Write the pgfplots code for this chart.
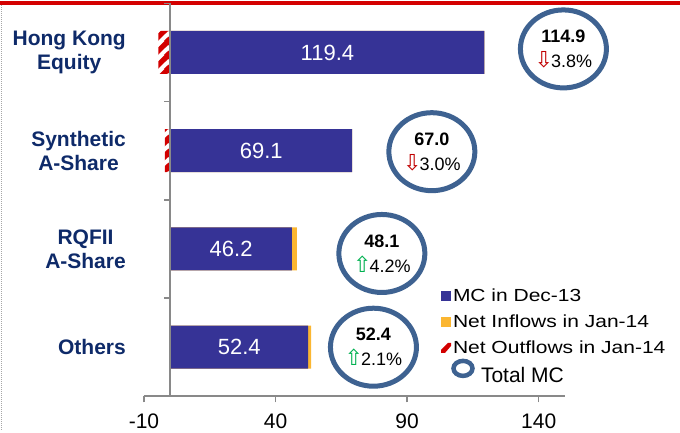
\documentclass[border=0pt]{standalone}
\usepackage{fontspec}
\setmainfont{Liberation Sans}
\newfontfamily\dejavu{DejaVu Sans}
\newfontfamily\legfont[FakeStretch=1.2]{Liberation Sans}
\usepackage{pgfplots}
\pgfplotsset{compat=1.18}
\usepackage{pgfplotstable}
\usetikzlibrary{patterns,shapes.geometric}

\definecolor{barblue}{RGB}{54,51,150}
\definecolor{inorange}{RGB}{251,182,49}
\definecolor{hred}{RGB}{210,0,0}
\definecolor{circblue}{RGB}{62,98,145}
\definecolor{navy}{RGB}{14,42,105}
\definecolor{axgray}{RGB}{137,137,137}
\definecolor{arrred}{RGB}{192,0,0}
\definecolor{arrgreen}{RGB}{0,176,80}
\definecolor{topred}{RGB}{212,0,0}

% thick red stripes for the outflows
\pgfdeclarepatternformonly{thickhatch}{\pgfqpoint{0pt}{0pt}}{\pgfqpoint{14pt}{14pt}}{\pgfqpoint{14pt}{14pt}}{%
  \pgfsetlinewidth{5.5pt}
  \pgfpathmoveto{\pgfqpoint{-2pt}{-2pt}}\pgfpathlineto{\pgfqpoint{16pt}{16pt}}
  \pgfpathmoveto{\pgfqpoint{-2pt}{12pt}}\pgfpathlineto{\pgfqpoint{2pt}{16pt}}
  \pgfpathmoveto{\pgfqpoint{12pt}{-2pt}}\pgfpathlineto{\pgfqpoint{16pt}{2pt}}
  \pgfusepath{stroke}}

\newcommand\dn{{\color{arrred}\dejavu\fontsize{22}{16}\selectfont ⇩}\kern-2pt}
\newcommand\up{{\color{arrgreen}\dejavu\fontsize{22}{16}\selectfont ⇧}\kern-2pt}
\newcommand\circtxt[3]{\textbf{#1}\\#2#3\%}

\pgfplotstableread{
y mc tot out
3 119.4 119.4 -4.5
2 69.1 69.1 -2.1
1 46.2 48.1 0
0 52.4 53.5 0
}\bars

\begin{document}
\begin{tikzpicture}
\begin{axis}[
  scale only axis, width=421pt, height=393pt,
  xmin=-10, xmax=150, ymin=-0.5, ymax=3.5,
  axis x line=bottom, axis y line=center,
  axis line style={draw=axgray, line width=2pt, -},
  tick align=outside,
  major tick length=6pt,
  tick style={draw=axgray, line width=1.5pt},
  xtick={-10,40,90,140}, xticklabels={-10,40,90,140},
  xticklabel style={font=\fontsize{21}{24}\selectfont, text=black, yshift=-8pt},
  ytick={-0.5,0.5,1.5,2.5,3.5}, yticklabels={,,,,},
  extra y ticks={0,1,2,3},
  extra y tick labels={Others,{RQFII\\A-Share},{Synthetic\\A-Share},{Hong Kong\\Equity}},
  extra y tick style={major tick length=0pt},
  yticklabel style={font=\fontsize{21}{24}\selectfont\bfseries, text=navy, align=center, xshift=-41pt},
  clip=false, axis on top,
  legend cell align=left,
  legend style={at={(0.705,0.28)}, anchor=north west, draw=none, fill=none,
    inner sep=0pt, row sep=8pt,
    font=\legfont\fontsize{17.5}{20}\selectfont},
]
\addplot[xbar, bar width=43pt, bar shift=0pt, draw=none, fill=inorange, forget plot]
  table[x=tot, y=y]{\bars};
\addplot[xbar, bar width=43pt, bar shift=0pt, draw=none, fill=barblue, forget plot,
  nodes near coords, point meta=explicit symbolic,
  visualization depends on={\thisrow{mc} \as \barlen},
  nodes near coords style={anchor=center, text=white, font=\fontsize{22}{24}\selectfont,
    xshift={-1.315625pt*\barlen}}]
  table[x=mc, y=y, meta=mc]{\bars};
\addplot[xbar, bar width=43pt, bar shift=0pt, draw=none, pattern=thickhatch, pattern color=hred, forget plot]
  table[x=out, y=y]{\bars};
\addplot[only marks, mark=none, forget plot,
  nodes near coords, point meta=explicit symbolic,
  nodes near coords style={ellipse, draw=circblue, line width=5pt, minimum width=86pt,
    minimum height=78pt, anchor=center, align=center, text=black, inner sep=0pt,
    font=\fontsize{18}{25}\selectfont}]
  coordinates {
    (149.4,3.036) [\circtxt{114.9}{\dn}{3.8}]
    (99.4,1.99) [\circtxt{67.0}{\dn}{3.0}]
    (80.4,0.954) [\circtxt{48.1}{\up}{4.2}]
    (77.2,0) [\circtxt{52.4}{\up}{2.1}]
  };
\addlegendimage{legend image code/.code={\fill[barblue, draw=none] (0pt,-5pt) rectangle (10pt,5pt);}}
\addlegendentry{MC in Dec-13}
\addlegendimage{legend image code/.code={\fill[inorange, draw=none] (0pt,-5pt) rectangle (10pt,5pt);}}
\addlegendentry{Net Inflows in Jan-14}
\addlegendimage{legend image code/.code={\path[draw=none] (0pt,-5pt) rectangle (10pt,5pt);
  \fill[hred, draw=none] (0pt,-5pt) -- (4pt,-5pt) -- (10pt,2pt) -- (10pt,5pt) -- (7pt,5pt) -- (0pt,-2pt) -- cycle;}}
\addlegendentry{Net Outflows in Jan-14}
\addlegendimage{legend image code/.code={\path[draw=none] (0pt,-5pt) rectangle (10pt,5pt);
  \draw[circblue, line width=4.5pt, overlay] (22pt,7pt) ellipse (9.5pt and 7.5pt);}}
\addlegendentry{\hspace{28pt}{\rmfamily\fontsize{21}{24}\selectfont Total MC}}
% page frame: red rule on top, dotted edge on the left
\path (rel axis cs:0,0) ++(-144pt,-34pt) rectangle ++(680pt,429pt);
\fill[topred] (rel axis cs:0,0) ++(-144pt,395pt) rectangle ++(680pt,-3.5pt);
\draw[black!35, densely dotted, line width=1pt] (rel axis cs:0,0) ++(-142pt,391pt) -- ++(0pt,-425pt);
\end{axis}
\end{tikzpicture}
\end{document}
